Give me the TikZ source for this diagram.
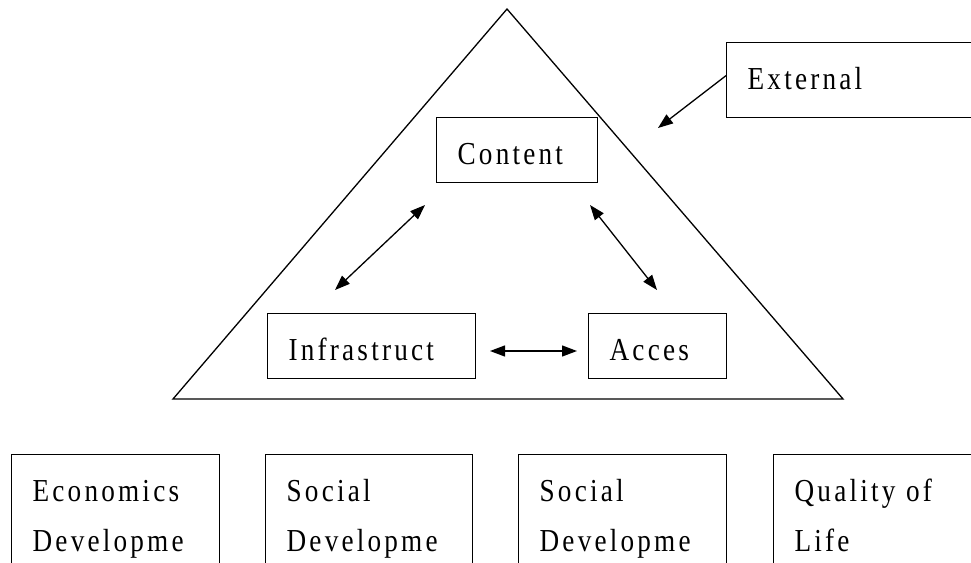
\documentclass[tikz,border=0pt]{standalone}
\usepackage{fontspec}
\setmainfont{Liberation Serif}[LetterSpace=10, FakeStretch=0.85]
\usetikzlibrary{arrows.meta}
\newcommand\lbl{\fontsize{32}{50}\selectfont}
\hyphenpenalty=10000
\exhyphenpenalty=10000
\tikzset{
	tribox/.style={draw, line width=1.3pt, anchor=north west, inner xsep=21pt, inner ysep=0pt,
		align=left, text height=46.5pt, font=\lbl},
	dbl/.style={line width=1.3pt, {Triangle[length=15pt,width=11pt]}-{Triangle[length=15pt,width=11pt]}},
	sgl/.style={line width=1.3pt, -{Triangle[length=15pt,width=11pt]}}
}

\begin{document}
\begin{tikzpicture}[x=1pt, y=-1pt]
				\useasboundingbox (0,0) rectangle (971,562);
				\clip (0,0) rectangle (971,562);

				\coordinate (apex) at (507,9);
				\coordinate (baseL) at (173,399);
				\coordinate (baseR) at (843,399);
				\draw[line width=1.3pt, line join=miter] (apex) -- (baseL) -- (baseR) -- cycle;

				\node[tribox, text width=119pt, text depth=18.5pt] (content) at (436,117) {Content};
				\node[tribox, text width=166pt, text depth=18.5pt] (infra) at (267,313) {Infrastruct};
				\node[tribox, text width=96pt, text depth=18.5pt] (acces) at (588,313) {Acces};
				\node[tribox, text width=218pt, text depth=28.5pt] (external) at (726,42) {External};

				\coordinate (ic1) at (335,290);
				\coordinate (ic2) at (425,205);
				\coordinate (ca1) at (590,205);
				\coordinate (ca2) at (657,290);
				\coordinate (ia1) at (490,351);
				\coordinate (ia2) at (577,351);
				\coordinate (ext) at (658,128);
				\draw[dbl] (ic1) -- (ic2);
				\draw[dbl] (ca1) -- (ca2);
				\draw[dbl] (ia1) -- (ia2);
				\draw[sgl] ([yshift=4.5pt]external.west) -- (ext);

				\node[tribox, text width=166pt, text depth=150pt] (econ) at (11,454) {Economics\\Developme};
				\node[tribox, text width=165pt, text depth=150pt] (social1) at (265,454) {Social\\Developme};
				\node[tribox, text width=166pt, text depth=150pt] (social2) at (518,454) {Social\\Developme};
				\node[tribox, text width=185pt, text depth=150pt] (quality) at (773,454) {Quality of\\Life};
			\end{tikzpicture}
\end{document}
